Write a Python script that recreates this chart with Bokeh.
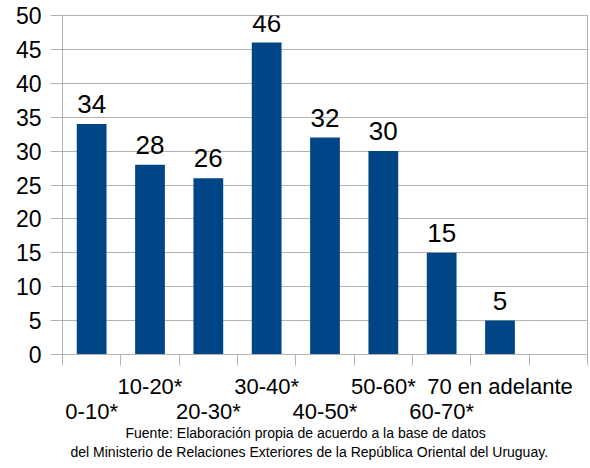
from bokeh.plotting import figure
from bokeh.models import Range1d, FixedTicker, LinearAxis, Grid, Title, ColumnDataSource, LabelSet
from bokeh.core.properties import value
from bokeh.embed import file_html
from bokeh.resources import INLINE

categories = ["0-10*", "10-20*", "20-30*", "30-40*", "40-50*", "50-60*", "60-70*", "70 en adelante"]
values = [34, 28, 26, 46, 32, 30, 15, 5]
n_slots = 9  # one empty slot at the right end
y_ticks = [0, 5, 10, 15, 20, 25, 30, 35, 40, 45, 50]
source_lines = [
    "Fuente: Elaboración propia de acuerdo a la base de datos",
    "del Ministerio de Relaciones Exteriores de la República Oriental del Uruguay.",
]

BAR = "#004586"
GRID = "#b3b3b3"
FONT = "Liberation Sans"

centers = [i + 0.5 for i in range(len(categories))]
src = ColumnDataSource(dict(x=centers, top=values, lab=[str(v) for v in values]))

p = figure(width=590, height=468, x_range=Range1d(0, n_slots), y_range=Range1d(0, 50),
           output_backend="svg", toolbar_location=None,
           x_axis_type=None, y_axis_type=None,
           min_border_left=62, min_border_right=3, min_border_top=15, min_border_bottom=114)
p.outline_line_color = GRID
p.background_fill_color = "white"

# grid
p.add_layout(Grid(dimension=1, ticker=FixedTicker(ticks=y_ticks), grid_line_color=GRID))

# y axis
yax = LinearAxis(ticker=FixedTicker(ticks=y_ticks), axis_line_color=GRID,
                 major_tick_line_color=GRID, major_tick_out=12, major_tick_in=0,
                 minor_tick_line_color=None, major_label_standoff=9,
                 major_label_text_font=FONT, major_label_text_font_size="23px",
                 major_label_text_color="black")
p.add_layout(yax, "left")

# x axis row 1 (odd categories) with boundary ticks
odd = {c: (categories[i] if i % 2 == 1 else "") for i, c in enumerate(centers)}
even = {c: (categories[i] if i % 2 == 0 else "") for i, c in enumerate(centers)}
xax1 = LinearAxis(ticker=FixedTicker(ticks=centers, minor_ticks=list(range(n_slots + 1))),
                  axis_line_color=GRID, major_tick_line_color=None, major_tick_out=0, major_tick_in=0,
                  minor_tick_line_color=GRID, minor_tick_out=11, minor_tick_in=0,
                  major_label_overrides=odd, major_label_standoff=8,
                  major_label_text_font=FONT, major_label_text_font_size="22px",
                  major_label_text_color="black")
p.add_layout(xax1, "below")
xax2 = LinearAxis(ticker=FixedTicker(ticks=[c for i, c in enumerate(centers) if i % 2 == 0]),
                  axis_line_color=None, major_tick_line_color=None, major_tick_out=0, major_tick_in=0,
                  minor_tick_line_color=None,
                  major_label_overrides=even, major_label_standoff=-3,
                  major_label_text_font=FONT, major_label_text_font_size="22px",
                  major_label_text_color="black")
p.add_layout(xax2, "below")

for line, off, so in zip(source_lines, [63, 8], [-8, 10]):
    t = Title(text=line, align="left", offset=off, text_font=FONT, text_font_size="14px",
              text_font_style="normal", text_color="black", standoff=so)
    p.add_layout(t, "below")

p.vbar(x="x", top="top", width=0.51, bottom=0, source=src, fill_color=BAR, line_color=None)
p.add_layout(LabelSet(x="x", y="top", text="lab", source=src, y_offset=11, text_align="center",
                      text_baseline="alphabetic", text_font=value(FONT), text_font_size=value("26px"),
                      text_color="black"))

open("out.html", "w").write(file_html(p, INLINE))
